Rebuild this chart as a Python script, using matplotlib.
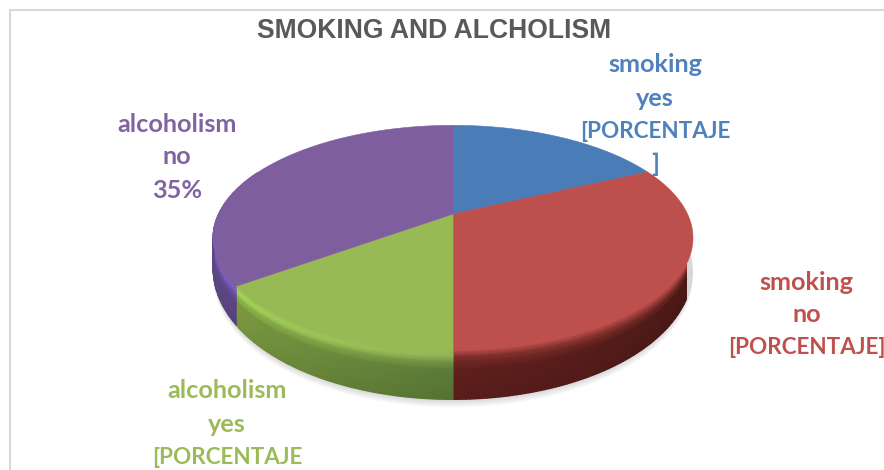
import numpy as np
import matplotlib
matplotlib.use('Agg')
from matplotlib import pyplot as plt
from matplotlib.colors import to_rgb

title = "SMOKING AND ALCHOLISM"
categories = ['smoking yes', 'smoking no', 'alcoholism yes', 'alcoholism no']
shares = [18, 32, 15, 35]
top_colors = ['#4a7cb8', '#bd4f4c', '#98ba55', '#7f5ea0']
text_colors = ['#4f81bd', '#c0504d', '#9bbb59', '#8064a2']

label_lines = [
    ['smoking', 'yes', '[PORCENTAJE', ']'],
    ['smoking', 'no', '[PORCENTAJE]'],
    ['alcoholism', 'yes', '[PORCENTAJE'],
    ['alcoholism', 'no', '35%'],
]
label_x = [655, 806.5, 227, 177]
label_y = [65, 282, 391, 124]
line_step = 33

# wall shading per slice: rim colour and body colour at both ends of the arc
wall_rim = {1: ('#9c3f3b', '#80302d'), 2: ('#93b256', '#a8dc5c'), 3: ('#7d5fc4', '#7a5fc0')}
wall_body = {1: ('#4c1917', '#5f201d'), 2: ('#5c7b38', '#7f9e42'), 3: ('#5e4785', '#6a5193')}

# disc projection
cx, cy = 453, 214
a, b, k = 234.5, 107.5, 0.2124


def project(t, depth=0.0):
    u, v = np.cos(t), np.sin(t)
    w = 1 + k * v
    x = cx + a * u / w
    y = cy - b * v / w + depth * (25 - 24 * v)
    return x, y


def mix(c1, c2, f):
    return np.array(to_rgb(c1)) * (1 - f) + np.array(to_rgb(c2)) * f


def draw_wall(ax, i, t0, t1):
    t = np.linspace(t0, t1, 80)
    levels = np.array([0, 0.12, 0.22, 0.38, 1.0])
    xs = np.zeros((len(levels), len(t)))
    ys = np.zeros((len(levels), len(t)))
    cols = np.zeros((len(levels), len(t), 3))
    for j, s in enumerate(levels):
        xs[j], ys[j] = project(t, s)
    for n in range(len(t)):
        f = n / (len(t) - 1)
        rim = mix(wall_rim[i][0], wall_rim[i][1], f)
        body = mix(wall_body[i][0], wall_body[i][1], f)
        cols[0, n] = to_rgb(top_colors[i])
        cols[1, n] = rim
        cols[2, n] = rim * 0.5 + body * 0.5
        cols[3, n] = body
        cols[4, n] = body * 0.92
    ax.pcolormesh(xs, ys, cols, shading='gouraud', zorder=3)


def pie_3d(ax):
    # edges run clockwise from twelve o'clock
    edges = np.pi / 2 - 2 * np.pi * np.cumsum([0] + shares) / sum(shares)

    # soft shadow under the disc
    t = np.linspace(0, 2 * np.pi, 300)
    for off in range(1, 9):
        x, y = project(t, 1.0)
        ax.fill(x, y + off, color='#000000', alpha=0.018, lw=0, zorder=1)

    # front wall only shows between these angles
    front0, front1 = np.radians(-25), np.radians(-205)
    for i in range(len(shares)):
        t0 = min(edges[i], front0)
        t1 = max(edges[i + 1], front1)
        if t0 > t1:
            draw_wall(ax, i, t0, t1)

    # top face
    for i in range(len(shares)):
        t = np.linspace(edges[i], edges[i + 1], 120)
        x, y = project(t)
        ax.fill(np.r_[cx, x], np.r_[cy, y], color=top_colors[i], lw=0.4, zorder=4)


fig = plt.figure(figsize=(8.84, 4.7), dpi=100)
ax = fig.add_axes([0, 0, 1, 1])
ax.set_xlim(0, 884)
ax.set_ylim(470, 0)
ax.axis('off')

# chart frame
ax.plot([9.5, 9.5, 884], [470, 9.5, 9.5], color='#d9d9d9', lw=1.5, zorder=0)

pie_3d(ax)

ax.text(434.5, 30.5, title, ha='center', va='center', fontsize=19.1, fontweight='bold',
        family='Liberation Sans', color='#595959')

for i, lines in enumerate(label_lines):
    for n, line in enumerate(lines):
        # Lato capitals run wide, so the upper-case lines get a smaller size
        size = 16.2 if line.startswith('[') else 18.2
        ax.text(label_x[i], label_y[i] + n * line_step, line, ha='center', va='center',
                fontsize=size, fontweight='bold', family='Lato', color=text_colors[i],
                zorder=6)

fig.savefig('out.png', dpi=100)
